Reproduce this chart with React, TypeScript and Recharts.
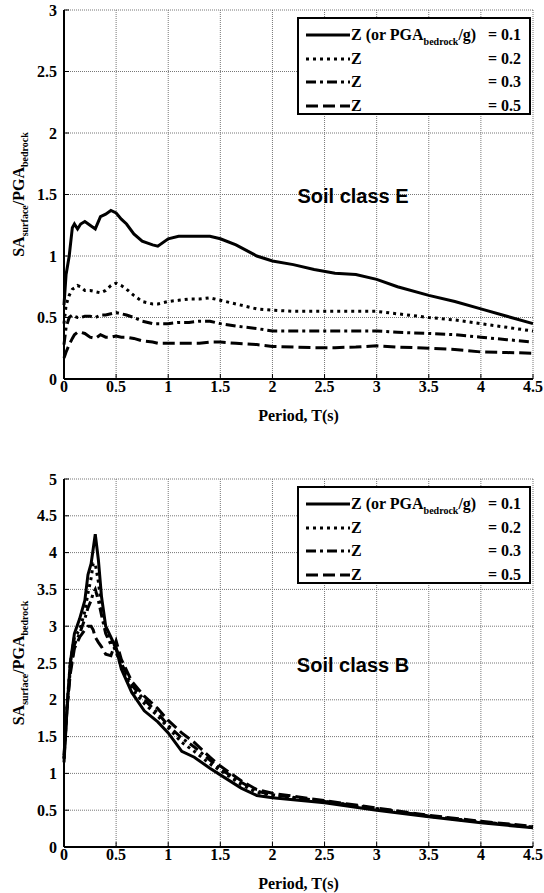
import React from 'react';
import { LineChart, Line, XAxis, YAxis, CartesianGrid } from 'recharts';

// Soil class E (top panel)
const periodE = [0, 0.02, 0.05, 0.08, 0.1, 0.13, 0.16, 0.2, 0.25, 0.3, 0.35, 0.4, 0.45, 0.5, 0.55, 0.6, 0.67, 0.75, 0.85, 0.9, 1.0, 1.1, 1.2, 1.3, 1.4, 1.5, 1.65, 1.85, 2.0, 2.2, 2.4, 2.6, 2.8, 3.0, 3.2, 3.5, 3.75, 4.0, 4.25, 4.5];
const z01E = [0.6, 0.85, 1.0, 1.23, 1.26, 1.22, 1.26, 1.28, 1.25, 1.22, 1.32, 1.34, 1.37, 1.35, 1.3, 1.26, 1.18, 1.12, 1.09, 1.08, 1.14, 1.16, 1.16, 1.16, 1.16, 1.14, 1.09, 1.0, 0.96, 0.93, 0.89, 0.86, 0.85, 0.81, 0.75, 0.68, 0.63, 0.57, 0.51, 0.45];
const z02E = [0.45, 0.6, 0.68, 0.73, 0.74, 0.76, 0.75, 0.72, 0.72, 0.71, 0.7, 0.72, 0.76, 0.78, 0.76, 0.73, 0.68, 0.63, 0.61, 0.61, 0.63, 0.64, 0.65, 0.65, 0.66, 0.64, 0.61, 0.57, 0.56, 0.55, 0.55, 0.55, 0.55, 0.55, 0.53, 0.5, 0.48, 0.45, 0.42, 0.39];
const z03E = [0.28, 0.42, 0.5, 0.52, 0.51, 0.5, 0.5, 0.51, 0.51, 0.5, 0.52, 0.52, 0.53, 0.54, 0.53, 0.52, 0.5, 0.47, 0.45, 0.45, 0.45, 0.46, 0.46, 0.47, 0.47, 0.45, 0.43, 0.41, 0.39, 0.39, 0.39, 0.39, 0.39, 0.39, 0.38, 0.37, 0.36, 0.34, 0.32, 0.3];
const z05E = [0.17, 0.22, 0.28, 0.33, 0.36, 0.38, 0.38, 0.37, 0.34, 0.33, 0.36, 0.34, 0.34, 0.35, 0.34, 0.34, 0.33, 0.31, 0.3, 0.29, 0.29, 0.29, 0.29, 0.29, 0.3, 0.3, 0.29, 0.28, 0.265, 0.26, 0.255, 0.255, 0.26, 0.27, 0.26, 0.25, 0.24, 0.22, 0.215, 0.21];

// Soil class B (bottom panel)
const periodB = [0, 0.03, 0.06, 0.1, 0.15, 0.2, 0.23, 0.26, 0.28, 0.3, 0.33, 0.36, 0.4, 0.45, 0.5, 0.55, 0.65, 0.77, 0.9, 1.0, 1.13, 1.25, 1.4, 1.5, 1.7, 1.85, 2.0, 2.5, 3.0, 3.5, 4.0, 4.5];
const z01B = [1.15, 1.9, 2.5, 2.9, 3.1, 3.35, 3.7, 3.85, 4.05, 4.25, 3.9, 3.4, 3.0, 2.85, 2.7, 2.42, 2.1, 1.85, 1.7, 1.55, 1.3, 1.22, 1.07, 0.98, 0.8, 0.7, 0.67, 0.6, 0.5, 0.41, 0.33, 0.26];
const z02B = [1.2, 1.95, 2.5, 2.85, 2.95, 3.2, 3.45, 3.65, 3.85, 3.85, 3.6, 3.25, 2.95, 2.8, 2.65, 2.45, 2.15, 1.95, 1.78, 1.62, 1.42, 1.3, 1.13, 1.04, 0.85, 0.74, 0.7, 0.62, 0.52, 0.42, 0.34, 0.27];
const z03B = [1.25, 1.9, 2.4, 2.75, 2.9, 3.1, 3.25, 3.35, 3.45, 3.5, 3.35, 3.15, 2.9, 2.75, 2.7, 2.5, 2.2, 2.0, 1.82, 1.65, 1.48, 1.36, 1.18, 1.06, 0.88, 0.76, 0.71, 0.62, 0.52, 0.42, 0.34, 0.27];
const z05B = [1.2, 1.9, 2.35, 2.7, 2.85, 2.95, 3.0, 3.0, 2.95, 2.85, 2.78, 2.72, 2.62, 2.6, 2.8, 2.55, 2.25, 2.05, 1.88, 1.72, 1.55, 1.42, 1.22, 1.1, 0.9, 0.78, 0.73, 0.63, 0.53, 0.43, 0.35, 0.28];

const xTicks = [0, 0.5, 1, 1.5, 2, 2.5, 3, 3.5, 4, 4.5];
const yTicksE = [0, 0.5, 1, 1.5, 2, 2.5, 3];
const yTicksB = [0, 0.5, 1, 1.5, 2, 2.5, 3, 3.5, 4, 4.5, 5];
const zLevels = ['0.1', '0.2', '0.3', '0.5'];

const serif = '"Liberation Serif", "Times New Roman", serif';
const sans = '"Liberation Sans", Arial, sans-serif';

const seriesStyle = [
  { key: 'z1', dash: undefined },
  { key: 'z2', dash: '3 4' },
  { key: 'z3', dash: '10 4 3 4' },
  { key: 'z4', dash: '12 5' },
];

const buildRows = (period: number[], s: number[][]) =>
  period.map((t, i) => ({ t, z1: s[0][i], z2: s[1][i], z3: s[2][i], z4: s[3][i] }));

const rowsE = buildRows(periodE, [z01E, z02E, z03E, z05E]);
const rowsB = buildRows(periodB, [z01B, z02B, z03B, z05B]);

const tickFont = { fontFamily: serif, fontWeight: 700, fontSize: 16, fill: '#000' };

function YTitle({ viewBox, fallbackY }: any) {
  const cy = viewBox && viewBox.height ? viewBox.y + viewBox.height / 2 : fallbackY;
  const cx = 24;
  return (
    <text
      x={cx}
      y={cy}
      transform={`rotate(-90 ${cx} ${cy})`}
      textAnchor="middle"
      fontFamily={serif}
      fontWeight={700}
      fontSize={16}
      fill="#000"
    >
      <tspan>SA</tspan>
      <tspan fontSize={10} dy={4}>surface</tspan>
      <tspan dy={-4}>/PGA</tspan>
      <tspan fontSize={10} dy={4}>bedrock</tspan>
    </text>
  );
}

function XTitle({ viewBox }: any) {
  const cx = viewBox ? viewBox.x + viewBox.width / 2 : 298;
  const y = viewBox ? viewBox.y + 42 : 0;
  return (
    <text x={cx} y={y} textAnchor="middle" fontFamily={serif} fontWeight={700} fontSize={16} fill="#000">
      Period, T(s)
    </text>
  );
}

function LegendBox({ top }: { top: number }) {
  return (
    <div
      style={{
        position: 'absolute',
        left: 297,
        top,
        width: 234,
        height: 98,
        border: '2px solid #000',
        boxSizing: 'border-box',
        background: '#fff',
        fontFamily: serif,
        fontWeight: 700,
        fontSize: 16,
        color: '#000',
      }}
    >
      {zLevels.map((z, i) => (
        <div
          key={z}
          style={{ position: 'absolute', left: 0, right: 0, top: 16 + i * 23.5 - 10, height: 20, lineHeight: '20px' }}
        >
          <svg width={46} height={20} style={{ position: 'absolute', left: 7, top: 0 }}>
            <line x1={0} x2={44} y1={10} y2={10} stroke="#000" strokeWidth={3} strokeDasharray={seriesStyle[i].dash} />
          </svg>
          <span style={{ position: 'absolute', left: 52, top: 0, whiteSpace: 'nowrap' }}>
            {i === 0 ? (
              <>
                Z (or PGA<span style={{ fontSize: 10, position: 'relative', top: 5 }}>bedrock</span>/g)
              </>
            ) : (
              'Z'
            )}
          </span>
          <span style={{ position: 'absolute', right: 8, top: 0, whiteSpace: 'nowrap' }}>= {z}</span>
        </div>
      ))}
    </div>
  );
}

function Panel({ rows, yMax, yTicks, top, height, marginTop, xAxisHeight, soil }: any) {
  return (
    <div style={{ position: 'absolute', left: 0, top, width: 544, height }}>
      <LineChart width={544} height={height} data={rows} margin={{ top: marginTop, right: 11, bottom: 0, left: 0 }}>
        <CartesianGrid stroke="#777" strokeDasharray="1 1" strokeWidth={1} />
        <XAxis
          dataKey="t"
          type="number"
          domain={[0, 4.5]}
          ticks={xTicks}
          height={xAxisHeight}
          tickSize={-5}
          tickMargin={7}
          axisLine={{ stroke: '#000', strokeWidth: 2 }}
          tickLine={{ stroke: '#000', strokeWidth: 1 }}
          tick={tickFont}
          interval={0}
          label={(p: any) => <XTitle viewBox={p.viewBox} />}
        />
        <XAxis
          xAxisId="top"
          orientation="top"
          dataKey="t"
          type="number"
          domain={[0, 4.5]}
          ticks={xTicks}
          height={0}
          tickSize={-5}
          axisLine={{ stroke: '#000', strokeWidth: 2 }}
          tickLine={{ stroke: '#000', strokeWidth: 1 }}
          tick={false}
        />
        <YAxis
          type="number"
          domain={[0, yMax]}
          ticks={yTicks}
          width={64}
          tickSize={-5}
          tickMargin={12}
          axisLine={{ stroke: '#000', strokeWidth: 2 }}
          tickLine={{ stroke: '#000', strokeWidth: 1 }}
          tick={tickFont}
          interval={0}
          label={(p: any) => <YTitle viewBox={p.viewBox} fallbackY={marginTop + 184} />}
        />
        <YAxis
          yAxisId="right"
          orientation="right"
          type="number"
          domain={[0, yMax]}
          ticks={yTicks}
          width={0}
          tickSize={-5}
          axisLine={{ stroke: '#000', strokeWidth: 2 }}
          tickLine={{ stroke: '#000', strokeWidth: 1 }}
          tick={false}
        />
        {seriesStyle.map((s) => (
          <Line
            key={s.key}
            type="linear"
            dataKey={s.key}
            stroke="#000"
            strokeWidth={3}
            strokeDasharray={s.dash}
            dot={false}
            activeDot={false}
            isAnimationActive={false}
          />
        ))}
      </LineChart>
      <div
        style={{
          position: 'absolute',
          left: 353,
          top: marginTop + 186,
          transform: 'translate(-50%, -50%)',
          fontFamily: sans,
          fontWeight: 700,
          fontSize: 20,
          whiteSpace: 'nowrap',
          lineHeight: 1,
          color: '#000',
        }}
      >
        {soil}
      </div>
      <LegendBox top={marginTop + 7} />
    </div>
  );
}

export default function App() {
  return (
    <div style={{ position: 'absolute', left: 0, top: 0, width: 544, height: 893, background: '#fff' }}>
      <Panel rows={rowsE} yMax={3} yTicks={yTicksE} top={0} height={446} marginTop={10} xAxisHeight={67} soil="Soil class E" />
      <Panel rows={rowsB} yMax={5} yTicks={yTicksB} top={446} height={447} marginTop={33} xAxisHeight={46} soil="Soil class B" />
    </div>
  );
}
